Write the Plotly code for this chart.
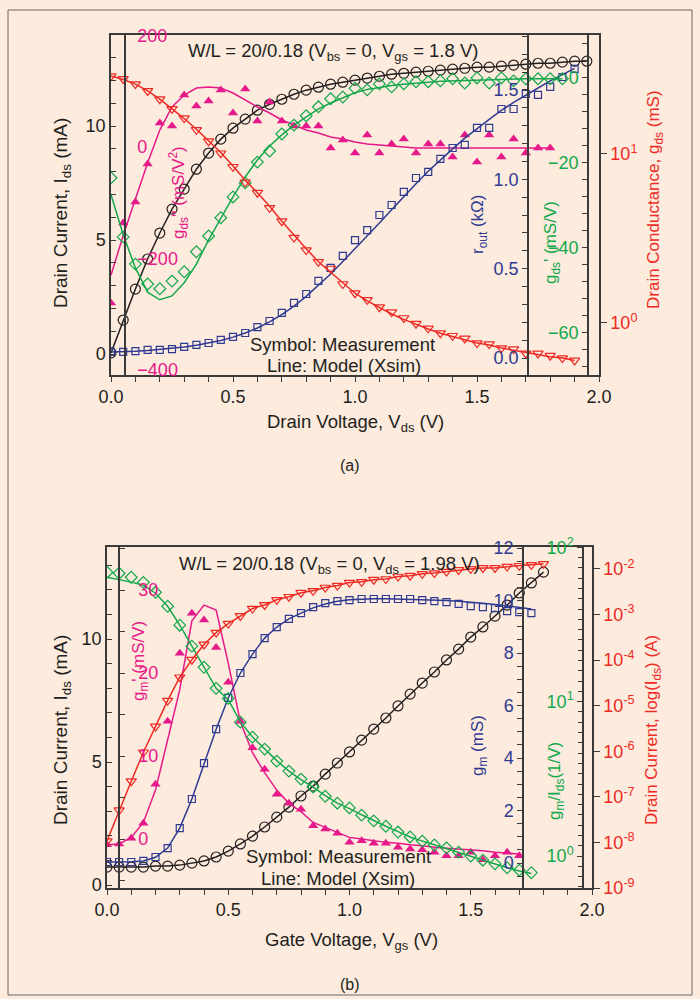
import plotly.graph_objects as go

W, H = 700, 999
BG = "#FDEBDD"
C_BLACK = "#231F20"
C_RED = "#EE2A24"
C_PINK = "#E6198A"
C_BLUE = "#2E3A92"
C_GREEN = "#12A84B"
LINE = "#3a3a3a"
FONT = "Liberation Sans"

# ---------------- panel (a): V_gs = 1.8 V ----------------
vds_a = [0.00, 0.05, 0.10, 0.15, 0.20, 0.25, 0.30, 0.35, 0.40, 0.45,
         0.50, 0.55, 0.60, 0.65, 0.70, 0.75, 0.80, 0.85, 0.90, 0.95,
         1.00, 1.05, 1.10, 1.15, 1.20, 1.25, 1.30, 1.35, 1.40, 1.45,
         1.50, 1.55, 1.60, 1.65, 1.70, 1.75, 1.80, 1.85, 1.90, 1.95]

ids_a = [0.05, 1.49, 2.85, 4.17, 5.31, 6.36, 7.24, 8.11, 8.82, 9.43,
         9.91, 10.31, 10.70, 10.96, 11.18, 11.40, 11.58, 11.71, 11.84, 11.93,
         12.02, 12.11, 12.19, 12.28, 12.32, 12.37, 12.41, 12.46, 12.50, 12.54,
         12.59, 12.59, 12.63, 12.68, 12.72, 12.76, 12.76, 12.81, 12.85, 12.85]

gds_meas = [28.9, 27.8, 25.9, 23.6, 21.1, 18.5, 16.3, 13.9, 11.9, 10.1,
            8.4, 6.8, 5.9, 4.8, 4.0, 3.2, 2.7, 2.3, 2.1, 1.7,
            1.5, 1.37, 1.24, 1.16, 1.07, 0.99, 0.93, 0.87, 0.84, 0.81,
            0.76, 0.75, 0.71, 0.70, 0.66, 0.66, 0.64, 0.62, 0.60]
gds_model = [28.9, 27.6, 25.9, 23.6, 21.1, 18.5, 16.2, 14.0, 12.0, 10.2,
             8.5, 7.0, 5.9, 4.9, 4.0, 3.3, 2.75, 2.3, 2.0, 1.72,
             1.5, 1.35, 1.23, 1.13, 1.05, 0.98, 0.92, 0.87, 0.83, 0.80,
             0.76, 0.74, 0.71, 0.69, 0.67, 0.65, 0.63, 0.62, 0.60]

rout_meas = [0.034, 0.034, 0.039, 0.045, 0.045, 0.050, 0.062, 0.073, 0.084, 0.101,
             0.118, 0.140, 0.173, 0.207, 0.252, 0.308, 0.358, 0.431, 0.504, 0.571,
             0.660, 0.716, 0.800, 0.856, 0.929, 1.007, 1.041, 1.114, 1.175, 1.192,
             1.287, 1.287, 1.393, 1.393, 1.477, 1.472, 1.517, 1.572, 1.617]
rout_model = [0.034, 0.035, 0.038, 0.042, 0.047, 0.053, 0.061, 0.071, 0.083, 0.098,
              0.117, 0.140, 0.168, 0.202, 0.243, 0.290, 0.345, 0.405, 0.470, 0.540,
              0.610, 0.680, 0.755, 0.830, 0.905, 0.975, 1.045, 1.110, 1.170, 1.230,
              1.285, 1.335, 1.385, 1.430, 1.470, 1.510, 1.550, 1.585, 1.620]

gdsp_meas = [-23.5, -37.4, -43.8, -48.5, -49.6, -47.8, -45.6, -40.9, -37.2, -32.9,
             -28.0, -24.7, -19.8, -17.2, -13.2, -11.1, -8.9, -6.8, -4.9, -4.5,
             -2.4, -2.8, -1.4, -2.1, -1.4, -0.9, -0.9, -0.7, -0.2, -1.2,
             0.0, -1.2, 0.0, -0.7, -0.2, -0.2, -0.2, -0.2]
gdsp_model = [-27.5, -36.9, -44.7, -50.4, -52.2, -51.3, -48.2, -43.8, -38.1, -32.9,
              -28.0, -23.3, -19.3, -16.0, -13.4, -11.1, -9.2, -7.3, -5.9, -4.7,
              -3.5, -2.7, -2.2, -1.8, -1.5, -1.2, -1.0, -0.8, -0.7, -0.6,
              -0.5, -0.4, -0.3, -0.3, -0.2, -0.2, -0.2, -0.2]

gdspp_meas = [-279.8, -136.3, -98.6, -30.5, 43.1, 37.7, 93.3, 73.6, 82.6, 102.3,
              61.0, 104.1, 46.7, 80.8, 46.7, 37.7, 37.7, 37.7, -1.8, 12.6,
              -10.7, 21.6, -10.7, 5.4, 14.4, -10.7, 5.4, 5.4, -17.9, 21.6,
              -26.9, 21.6, -17.9, 14.4, -10.7, -1.8, -1.8]
gdspp_model = [-229.6, -158.7, -93.3, -28.7, 30.5, 71.8, 93.3, 105.9, 107.7, 105.9,
               96.9, 84.4, 71.8, 61.0, 48.5, 39.5, 30.5, 25.1, 18.0, 14.4,
               9.0, 5.4, 3.6, 1.8, 0.0, -1.8, -1.8, -1.8, -1.8, -1.8,
               -1.8, -1.8, -1.8, -1.8, -1.8, -1.8, -1.8]

# ---------------- panel (b): V_ds = 1.98 V ----------------
vgs_b = [0.00, 0.05, 0.10, 0.15, 0.20, 0.25, 0.30, 0.35, 0.40, 0.45,
         0.50, 0.55, 0.60, 0.65, 0.70, 0.75, 0.80, 0.85, 0.90, 0.95,
         1.00, 1.05, 1.10, 1.15, 1.20, 1.25, 1.30, 1.35, 1.40, 1.45,
         1.50, 1.55, 1.60, 1.65, 1.70, 1.75, 1.80]

ids_b = [0.73, 0.73, 0.73, 0.73, 0.77, 0.77, 0.81, 0.89, 0.98, 1.14,
         1.38, 1.67, 1.99, 2.36, 2.76, 3.17, 3.62, 4.02, 4.51, 4.96,
         5.41, 5.89, 6.34, 6.79, 7.28, 7.76, 8.21, 8.66, 9.15, 9.59,
         10.08, 10.49, 10.93, 11.38, 11.87, 12.28, 12.72]

ids_log_b = [1.07e-8, 5.1e-8, 2.2e-7, 9.5e-7, 3.5e-6, 1.29e-5, 4.2e-5, 1.02e-4, 2.2e-4, 4.0e-4,
             6.3e-4, 9.3e-4, 1.35e-3, 1.62e-3, 2.1e-3, 2.45e-3, 3.0e-3, 3.3e-3, 3.9e-3, 4.3e-3,
             5.0e-3, 5.2e-3, 5.8e-3, 6.0e-3, 6.8e-3, 7.1e-3, 7.8e-3, 8.1e-3, 8.7e-3, 9.5e-3,
             1.0e-2, 1.05e-2, 1.05e-2, 1.12e-2, 1.17e-2, 1.23e-2, 1.29e-2]

gm_meas = [0.04, 0.04, 0.04, 0.08, 0.23, 0.57, 1.33, 2.44, 3.81, 5.10,
           6.29, 7.24, 7.96, 8.57, 8.99, 9.30, 9.52, 9.75, 9.90, 9.98,
           10.02, 10.06, 10.06, 10.06, 10.06, 10.06, 10.02, 9.98, 9.94, 9.87,
           9.79, 9.75, 9.71, 9.60, 9.56, 9.52]
gm_model = [0.04, 0.04, 0.05, 0.08, 0.22, 0.57, 1.33, 2.44, 3.81, 5.10,
            6.29, 7.24, 7.96, 8.57, 8.99, 9.30, 9.52, 9.72, 9.87, 9.97,
            10.03, 10.06, 10.07, 10.07, 10.06, 10.05, 10.04, 10.02, 10.00, 9.97,
            9.94, 9.90, 9.85, 9.80, 9.74, 9.68]

gmp_meas = [-0.7, -0.6, 0.1, 1.9, 6.6, 14.2, 22.4, 27.2, 26.4, 23.1,
            18.9, 14.2, 11.0, 8.4, 5.4, 4.3, 3.6, 1.6, 1.2, 0.7,
            -0.4, -0.2, -0.5, -0.5, -1.0, -1.2, -1.3, -1.6, -2.0, -2.0,
            -1.6, -2.5, -2.0, -1.6, -2.0]
gmp_model = [-0.7, -0.6, 0.2, 2.0, 5.9, 11.9, 18.0, 26.3, 28.2, 27.6,
             21.2, 14.1, 10.4, 8.0, 5.9, 4.3, 3.3, 2.0, 1.4, 0.8,
             0.2, 0.0, -0.2, -0.4, -0.5, -0.7, -0.8, -1.0, -1.1, -1.2,
             -1.3, -1.4, -1.6, -1.7, -1.8]

gmid_meas = [68.9, 67.9, 64.0, 59.3, 51.1, 41.5, 31.3, 22.9, 16.7, 12.2,
             10.5, 7.37, 5.89, 4.93, 4.12, 3.55, 3.15, 2.80, 2.44, 2.20,
             2.05, 1.84, 1.69, 1.56, 1.43, 1.33, 1.25, 1.18, 1.13, 1.06,
             1.00, 0.94, 0.89, 0.84, 0.81, 0.78]
gmid_model = [64.0, 62.0, 59.5, 56.8, 50.4, 41.5, 31.3, 22.9, 16.7, 12.2,
              10.3, 7.40, 5.90, 4.95, 4.15, 3.55, 3.13, 2.80, 2.46, 2.20,
              2.03, 1.85, 1.69, 1.56, 1.44, 1.33, 1.25, 1.18, 1.12, 1.06,
              1.00, 0.94, 0.89, 0.84, 0.80, 0.77]


def px(x):
    return x / W


def py(y):
    return 1 - y / H


fig = go.Figure()


def model(x, y, color, xa, ya):
    fig.add_trace(go.Scatter(x=x, y=y, mode="lines", xaxis=xa, yaxis=ya,
                             line=dict(color=color, width=1.5), hoverinfo="skip"))


def meas(x, y, color, symbol, size, xa, ya):
    filled = not symbol.endswith("open")
    fig.add_trace(go.Scatter(x=x, y=y, mode="markers", xaxis=xa, yaxis=ya,
                             marker=dict(symbol=symbol, size=size, color=color,
                                         line=dict(color=color, width=0 if filled else 1.2))))


# panel (a) traces
model(vds_a[:37], gdspp_model, C_PINK, "x", "y2")
meas(vds_a[:37], gdspp_meas, C_PINK, "triangle-up", 9, "x", "y2")
model(vds_a[:39], gds_model, C_RED, "x", "y5")
meas(vds_a[:39], gds_meas, C_RED, "triangle-down-open", 9, "x", "y5")
model(vds_a[:38], gdsp_model, C_GREEN, "x", "y4")
meas(vds_a[:38], gdsp_meas, C_GREEN, "diamond-open", 9, "x", "y4")
model(vds_a[:39], rout_model, C_BLUE, "x", "y3")
meas(vds_a[:39], rout_meas, C_BLUE, "square-open", 7, "x", "y3")
model(vds_a, ids_a, C_BLACK, "x", "y")
meas(vds_a, ids_a, C_BLACK, "circle-open", 10, "x", "y")

# panel (b) traces
model(vgs_b[:35], gmp_model, C_PINK, "x2", "y7")
meas(vgs_b[:35], gmp_meas, C_PINK, "triangle-up", 9, "x2", "y7")
model(vgs_b[:36], gmid_model, C_GREEN, "x2", "y9")
meas(vgs_b[:36], gmid_meas, C_GREEN, "diamond-open", 9, "x2", "y9")
model(vgs_b, ids_log_b, C_RED, "x2", "y10")
meas(vgs_b, ids_log_b, C_RED, "triangle-down-open", 9, "x2", "y10")
model(vgs_b[:36], gm_model, C_BLUE, "x2", "y8")
meas(vgs_b[:36], gm_meas, C_BLUE, "square-open", 7, "x2", "y8")
model(vgs_b, ids_b, C_BLACK, "x2", "y6")
meas(vgs_b, ids_b, C_BLACK, "circle-open", 10, "x2", "y6")

TICK = 18


def ax(color=C_BLACK, **kw):
    d = dict(showgrid=False, zeroline=False, showline=True, linecolor=LINE, linewidth=1.5,
             tickcolor=LINE, tickwidth=1.2, ticklen=5, automargin=False,
             tickfont=dict(family=FONT, size=TICK, color=color))
    d.update(kw)
    return d


def minor(dt, where):
    return dict(ticks=where, dtick=dt, ticklen=5, tickcolor=LINE, tickwidth=1.2)


YA = [py(375), py(35)]
YB = [py(888), py(547)]

layout = dict(
    width=W, height=H, margin=dict(l=0, r=0, t=0, b=0),
    paper_bgcolor=BG, plot_bgcolor=BG, showlegend=False,
    font=dict(family=FONT, size=17, color=C_BLACK),
    # ----- panel (a)
    xaxis=ax(domain=[px(111), px(599)], range=[0, 2], anchor="y", ticks="outside",
             dtick=0.5, tick0=0, tickformat=".1f", mirror=True, minor=minor(0.1, "outside")),
    yaxis=ax(domain=YA, range=[-0.92, 14], anchor="x", ticks="inside", dtick=5,
             minor=minor(1, "inside")),
    yaxis2=ax(C_PINK, overlaying="y", anchor="free", position=px(125), side="right",
              range=[-409, 201], dtick=200, ticks="", ticklabelstandoff=8),
    yaxis3=ax(C_BLUE, overlaying="y", anchor="free", position=px(528), side="left",
              range=[-0.095, 1.807], dtick=0.5, tickformat=".1f", ticks="outside",
              minor=minor(0.1, "outside")),
    yaxis4=ax(C_GREEN, overlaying="y", anchor="free", position=px(588), side="left",
              range=[-69.9, 10.1], dtick=20, ticks="outside", minor=minor(4, "outside")),
    yaxis5=ax(C_RED, overlaying="y", anchor="x", side="right", type="log",
              range=[-0.308, 1.704], tickmode="array", tickvals=[1, 10],
              ticktext=["10<sup>0</sup>", "10<sup>1</sup>"], ticks="outside", ticklen=6),
    # ----- panel (b)
    xaxis2=ax(domain=[px(107), px(592)], range=[0, 2], anchor="y6", ticks="outside",
              dtick=0.5, tick0=0, tickformat=".1f", mirror=True, minor=minor(0.1, "outside")),
    yaxis6=ax(domain=YB, range=[-0.12, 13.74], anchor="x2", ticks="inside", dtick=5,
              minor=minor(1, "inside")),
    yaxis7=ax(C_PINK, overlaying="y6", anchor="free", position=px(119), side="right",
              range=[-5.9, 35.2], dtick=10, ticks="outside", ticklabelstandoff=10,
              minor=minor(5, "outside")),
    yaxis8=ax(C_BLUE, overlaying="y6", anchor="free", position=px(523), side="left",
              range=[-0.95, 12.04], dtick=2, ticks="outside", minor=minor(0.5, "outside")),
    yaxis9=ax(C_GREEN, overlaying="y6", anchor="free", position=px(583), side="left",
              type="log", range=[-0.207, 2.002], tickmode="array", tickvals=[1, 10, 100],
              ticktext=["10<sup>0</sup>", "10<sup>1</sup>", "10<sup>2</sup>"],
              ticks="outside",
              minor=dict(ticks="outside", tickmode="array", ticklen=4, tickcolor=LINE,
                         tickvals=[10 ** (k / 15) for k in range(-3, 31)])),
    yaxis10=ax(C_RED, overlaying="y6", anchor="x2", side="right", type="log",
               range=[-9.0, -1.52], tickmode="array",
               tickvals=[1e-9, 1e-8, 1e-7, 1e-6, 1e-5, 1e-4, 1e-3, 1e-2],
               ticktext=["10<sup>-%d</sup>" % k for k in [9, 8, 7, 6, 5, 4, 3, 2]],
               ticks="outside", ticklen=6),
)
fig.update_layout(**layout)


def note(x, y, text, color=C_BLACK, size=18.5, angle=0):
    fig.add_annotation(x=px(x), y=py(y), xref="paper", yref="paper", text=text,
                       showarrow=False, textangle=angle, xanchor="center", yanchor="middle",
                       font=dict(family=FONT, size=size, color=color))


# panel (a) texts
note(333, 52, "W/L = 20/0.18 (V<sub>bs</sub> = 0, V<sub>gs</sub> = 1.8 V)")
note(342, 344, "Symbol: Measurement")
note(344, 365, "Line: Model (Xsim)")
note(355, 423, "Drain Voltage, V<sub>ds</sub> (V)")
note(350, 466, "(a)", size=16)
note(62, 213, "Drain Current, I<sub>ds</sub> (mA)", size=19, angle=-90)
note(179, 193, "g<sub>ds</sub>'' (mS/V<sup>2</sup>)", C_PINK, size=17, angle=-90)
note(479, 225, "r<sub>out</sub> (kΩ)", C_BLUE, size=17, angle=-90)
note(552, 243, "g<sub>ds</sub>' (mS/V)", C_GREEN, size=17, angle=-90)
note(655, 200, "Drain Conductance, g<sub>ds</sub> (mS)", C_RED, size=17, angle=-90)

# panel (b) texts
note(329, 565, "W/L = 20/0.18 (V<sub>bs</sub> = 0, V<sub>ds</sub> = 1.98 V)")
note(338, 856, "Symbol: Measurement")
note(338, 878, "Line: Model (Xsim)")
note(351, 941, "Gate Voltage, V<sub>gs</sub> (V)")
note(350, 984, "(b)", size=16)
note(62, 730, "Drain Current, I<sub>ds</sub> (mA)", size=19, angle=-90)
note(140, 661, "g<sub>m</sub>' (mS/V)", C_PINK, size=17, angle=-90)
note(479, 746, "g<sub>m</sub> (mS)", C_BLUE, size=17, angle=-90)
note(556, 781, "g<sub>m</sub>/I<sub>ds</sub>(1/V)", C_GREEN, size=17, angle=-90)
note(653, 730, "Drain Current, log(I<sub>ds</sub>) (A)", C_RED, size=17, angle=-90)

fig.add_shape(type="rect", xref="paper", yref="paper", x0=px(8), x1=px(692),
              y0=py(995), y1=py(10), line=dict(color="#666666", width=1), layer="below")

fig.write_html("out.html", config={"displayModeBar": False},
               post_script="document.body.style.margin='0';")
